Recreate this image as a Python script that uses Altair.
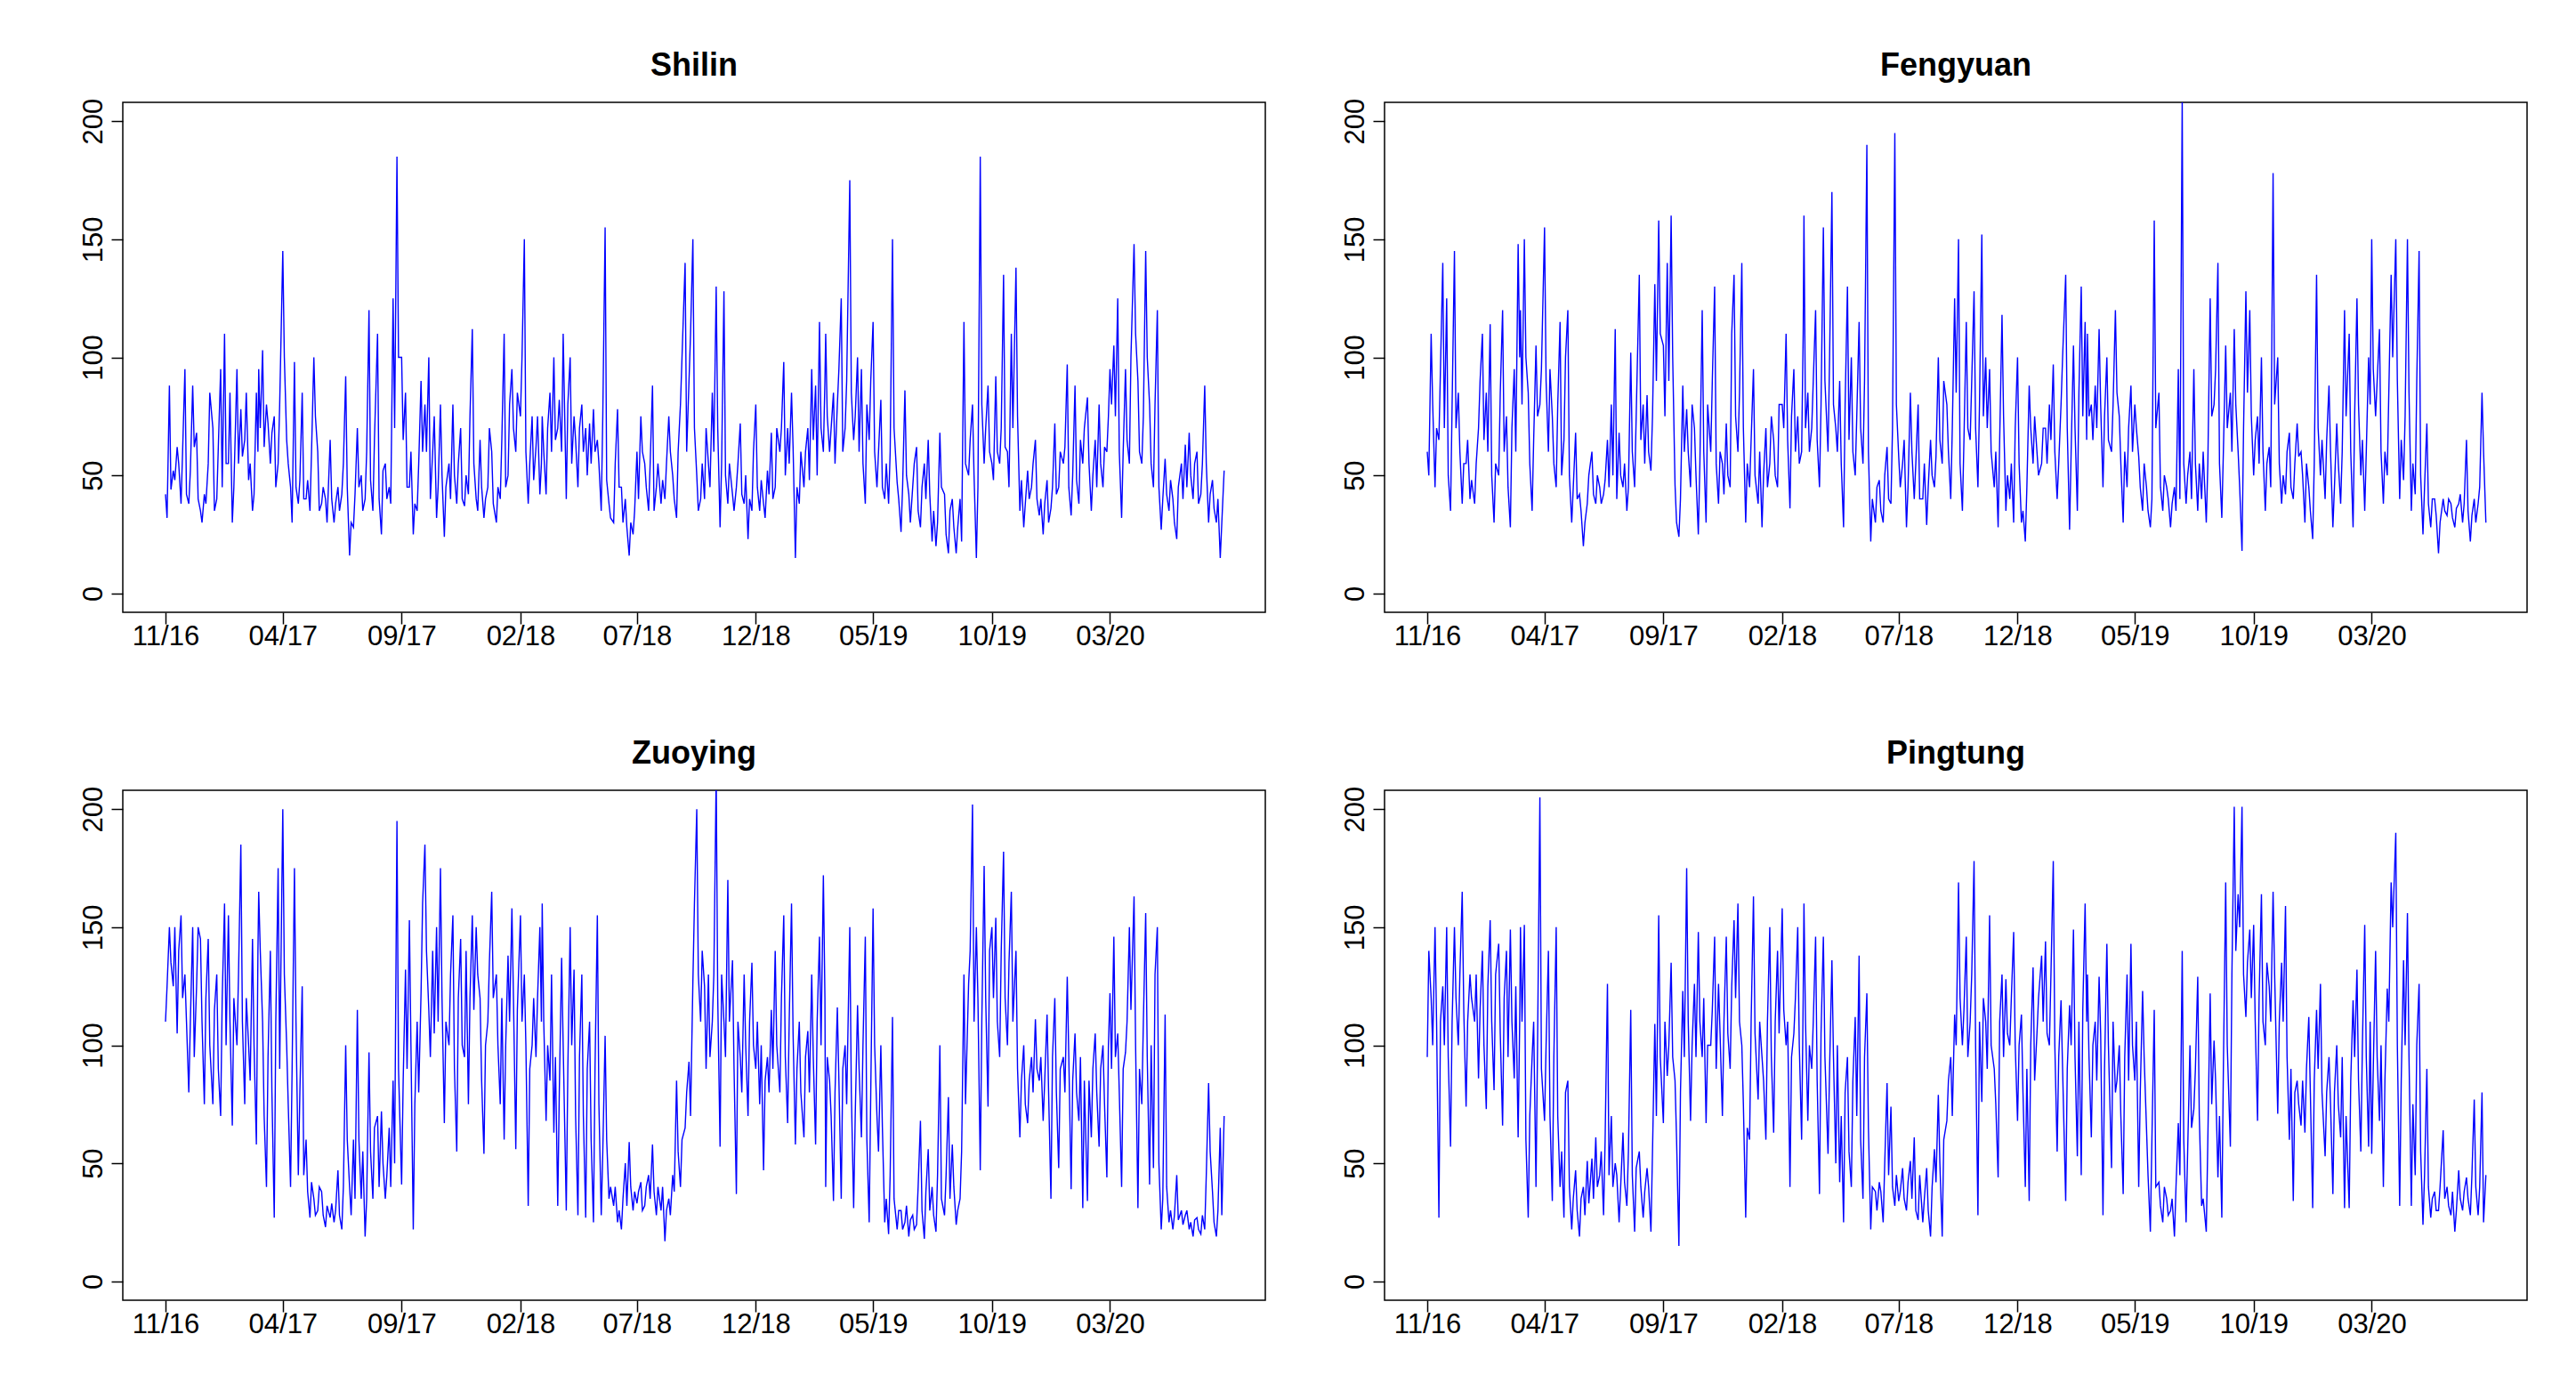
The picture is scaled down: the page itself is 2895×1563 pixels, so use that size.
import altair as alt
import pandas as pd

# ---- data: Nov 2016 - Jul 2020, readings on days 1,6,11,16,21,26 (A) and 3,8,13,18,23,28 (B) ----
STATIONS = ["Shilin", "Fengyuan", "Zuoying", "Pingtung"]

shilin_a = [
    42, 88, 52, 62, 38, 95,  38, 88, 68, 35, 42, 55,
    70, 40, 95, 110, 55, 30,  95, 78, 65, 48, 35, 85,  95, 103, 80, 55, 75, 55,
    145, 65, 45, 98, 38, 85,  40, 35, 100, 60, 38, 40,  65, 30, 45, 42, 92, 16,
    28, 70, 50, 40, 120, 35,  110, 25, 55, 45, 125, 185,  100, 85, 45, 25, 35, 90,
    80, 100, 60, 32, 80, 24,  55, 80, 38, 70, 37, 42,  112, 40, 65, 32, 45, 60,
    30, 40, 110, 50, 95, 60,  75, 150, 38, 75, 62, 42,  75, 42, 85, 100, 70, 60,
    40, 100, 75, 45, 80, 70,  72, 78, 65, 35, 155, 38,  30, 78, 45, 40, 16, 25,
    60, 75, 55, 35, 88, 45,  38, 40, 75, 50, 32, 80,  140, 90, 150, 50, 40, 40,
    55, 85, 130, 28, 128, 38,  42, 45, 72, 38, 23, 35,  80, 35, 38, 52, 68, 45,
    60, 98, 70, 85, 15, 38,  45, 70, 95, 88, 115, 60,  110, 60, 85, 80, 125, 70,
    175, 65, 100, 95, 38, 65,  115, 45, 82, 40, 38, 150,  47, 26, 86, 42, 45, 62,
    28, 55, 65, 22, 20, 68,  42, 17, 40, 17, 40, 115,  50, 80, 15, 185, 55, 88,
    55, 92, 55, 135, 60, 110,  138, 35, 28, 52, 45, 65,  33, 25, 48, 36, 72, 45,
    55, 97, 33, 88, 38, 55,  83, 35, 65, 80, 45, 60,  95, 105, 125, 32, 95, 55,
    148, 90, 55, 145, 80, 45,  120, 27, 57, 35, 40, 23,  55, 63, 68, 40, 60, 42,
    88, 30, 48, 30, 15, 52,
]
shilin_b = [
    32, 44, 48, 55, 60, 42,  52, 62, 40, 30, 38, 85,
    35, 62, 45, 55, 85, 45,  55, 58, 85, 55, 42, 60,  70, 62, 72, 68, 45, 80,
    100, 55, 30, 45, 48, 40,  48, 60, 75, 35, 45, 30,  40, 38, 35, 55, 45, 30,
    42, 45, 35, 60, 48, 65,  40, 52, 40, 38, 70, 100,  65, 45, 60, 38, 55, 60,
    60, 40, 75, 45, 50, 45,  40, 50, 55, 40, 50, 75,  55, 35, 45, 40, 70, 38,
    45, 65, 45, 80, 70, 85,  100, 60, 55, 48, 75, 55,  60, 70, 60, 65, 82, 110,
    80, 55, 65, 70, 60, 50,  55, 60, 55, 75, 48, 32,  55, 45, 30, 28, 30, 35,
    40, 60, 45, 55, 35, 55,  48, 55, 60, 40, 60, 100,  60, 110, 70, 35, 55, 70,
    45, 60, 70, 55, 50, 55,  35, 55, 42, 50, 40, 60,  45, 48, 32, 42, 40, 70,
    70, 50, 55, 62, 45, 60,  60, 48, 65, 50, 70, 90,  75, 70, 55, 95, 60, 90,
    85, 75, 60, 55, 80, 90,  60, 60, 45, 55, 60, 70,  40, 45, 50, 30, 55, 35,
    45, 40, 42, 35, 30, 45,  25, 35, 28, 28, 22, 55,  65, 50, 45, 80, 70, 60,
    48, 60, 70, 62, 45, 70,  75, 48, 38, 40, 55, 40,  40, 38, 30, 45, 42, 60,
    62, 45, 50, 48, 65, 70,  55, 50, 45, 55, 62, 75,  80, 75, 60, 60, 65, 100,
    110, 60, 75, 100, 55, 80,  45, 40, 42, 48, 30, 45,  40, 45, 50, 55, 38, 55,
    55, 42, 36, 40, 30,
]

fengyuan_a = [
    60, 110, 45, 65, 140, 125,  35, 145, 85, 38, 55, 40,
    38, 70, 110, 85, 114, 30,  50, 120, 75, 28, 95, 148,  120, 150, 85, 35, 105, 80,
    155, 60, 75, 45, 115, 65,  120, 30, 68, 42, 20, 38,  60, 38, 45, 42, 65, 80,
    112, 68, 45, 35, 102, 45,  135, 80, 84, 52, 131, 158,  105, 140, 160, 46, 24, 88,
    78, 45, 70, 25, 120, 30,  60, 130, 38, 55, 72, 45,  135, 60, 140, 30, 45, 95,
    38, 28, 70, 55, 65, 45,  80, 110, 36, 95, 75, 60,  160, 85, 70, 120, 45, 155,
    60, 170, 70, 90, 28, 130,  100, 50, 115, 55, 190, 22,  30, 48, 30, 62, 38, 195,
    58, 55, 28, 85, 40, 80,  40, 29, 65, 45, 100, 55,  80, 40, 125, 150, 35, 115,
    65, 128, 45, 152, 100, 95,  45, 28, 118, 35, 40, 30,  100, 30, 22, 88, 55, 60,
    55, 70, 80, 97, 40, 80,  135, 27, 105, 35, 130, 115,  110, 80, 88, 112, 45, 100,
    60, 120, 75, 30, 45, 88,  80, 58, 35, 45, 28, 158,  85, 35, 45, 28, 45, 95,
    210, 38, 60, 95, 35, 40,  30, 125, 80, 140, 32, 105,  85, 112, 60, 18, 128, 120,
    50, 75, 100, 35, 62, 178,  100, 38, 42, 68, 40, 72,  60, 30, 45, 23, 135, 50,
    40, 88, 28, 72, 38, 120,  110, 28, 125, 50, 35, 100,  150, 75, 112, 38, 50, 135,
    150, 40, 48, 150, 35, 42,  145, 25, 72, 28, 40, 17,  40, 33, 38, 28, 38, 30,
    65, 22, 40, 38, 85, 30,
]
fengyuan_b = [
    50, 80, 70, 95, 70, 50,  80, 70, 60, 55, 65, 48,
    55, 90, 65, 60, 50, 55,  85, 60, 45, 70, 60, 100,  80, 100, 55, 65, 75, 95,
    90, 95, 55, 80, 50, 100,  50, 45, 40, 35, 30, 50,  42, 50, 38, 48, 45, 50,
    40, 50, 55, 45, 60, 75,  65, 55, 60, 75, 90, 110,  75, 90, 100, 30, 40, 60,
    60, 80, 50, 55, 60, 80,  90, 55, 60, 42, 50, 110,  75, 85, 70, 55, 65, 50,
    60, 50, 45, 75, 50, 80,  70, 65, 75, 60, 55, 110,  70, 60, 90, 65, 80, 90,
    100, 80, 60, 55, 80, 65,  60, 75, 70, 90, 60, 40,  45, 35, 50, 40, 70, 80,
    45, 65, 45, 60, 55, 40,  55, 45, 50, 58, 65, 90,  60, 70, 85, 55, 65, 70,
    90, 70, 80, 75, 70, 60,  60, 65, 75, 50, 55, 70,  55, 35, 45, 70, 75, 50,
    70, 55, 65, 60, 55, 100,  70, 60, 70, 85, 75, 65,  75, 65, 70, 80, 75, 65,
    80, 85, 55, 60, 70, 60,  70, 45, 55, 35, 40, 70,  45, 50, 40, 38, 35, 40,
    55, 50, 40, 55, 55, 60,  55, 75, 95, 55, 60, 70,  60, 80, 45, 70, 85, 75,
    65, 55, 60, 55, 45, 80,  55, 50, 60, 45, 55, 58,  50, 55, 35, 55, 70, 65,
    65, 60, 45, 55, 60, 75,  60, 75, 80, 65, 60, 80,  95, 90, 60, 60, 85, 100,
    90, 65, 75, 85, 55, 90,  50, 45, 38, 40, 33, 30,  35, 40, 32, 36, 42, 38,
    35, 33, 30, 45, 60,
]

zuoying_a = [
    110, 150, 125, 105, 155, 130,  80, 150, 125, 145, 75, 145,
    75, 130, 70, 160, 155, 66,  100, 185, 75, 100, 145, 58,  165, 110, 40, 140, 27, 175,
    200, 100, 40, 175, 45, 125,  60, 27, 35, 30, 38, 23,  27, 25, 47, 22, 100, 40,
    60, 115, 35, 19, 97, 35,  70, 72, 35, 65, 85, 195,  41, 132, 153, 22, 110, 122,
    185, 115, 140, 150, 175, 67,  100, 155, 55, 145, 95, 75,  155, 150, 120, 54, 110, 165,
    130, 75, 60, 138, 158, 56,  155, 130, 32, 100, 95, 150,  160, 68, 85, 63, 32, 137,
    30, 150, 132, 28, 130, 27,  110, 25, 155, 28, 104, 35,  32, 25, 22, 50, 59, 30,
    33, 42, 32, 45, 58, 28,  30, 17, 35, 45, 85, 40,  65, 93, 127, 200, 110, 125,
    130, 110, 215, 57, 110, 170,  136, 37, 95, 130, 70, 135,  90, 75, 47, 95, 115, 140,
    80, 155, 67, 160, 58, 110,  61, 106, 130, 58, 146, 172,  40, 85, 34, 116, 35, 100,
    150, 31, 117, 61, 146, 25,  158, 70, 100, 25, 20, 112,  22, 30, 25, 19, 28, 24,
    68, 18, 56, 40, 21, 100,  28, 78, 58, 24, 35, 130,  126, 202, 150, 47, 176, 74,
    150, 154, 95, 182, 100, 165,  140, 61, 100, 67, 95, 111,  85, 68, 113, 35, 120, 48,
    95, 129, 39, 105, 68, 31,  34, 61, 105, 57, 100, 44,  122, 146, 105, 40, 97, 150,
    163, 31, 75, 156, 41, 48,  150, 22, 113, 25, 22, 45,  30, 28, 22, 19, 27, 20,
    22, 84, 38, 19, 65, 70,
]
zuoying_b = [
    125, 135, 150, 140, 120, 110,  110, 95, 150, 110, 120, 100,
    115, 90, 120, 100, 110, 120,  130, 110, 120, 85, 100, 140,  140, 70, 95, 80, 110, 90,
    130, 75, 90, 110, 80, 45,  38, 42, 28, 40, 28, 32,  33, 30, 28, 40, 60, 28,
    35, 60, 55, 35, 55, 65,  40, 50, 45, 40, 50, 90,  85, 90, 100, 75, 80, 160,
    140, 95, 105, 110, 120, 110,  130, 90, 120, 100, 140, 120,  115, 130, 85, 100, 135, 120,
    100, 120, 100, 110, 120, 115,  110, 100, 90, 120, 120, 110,  110, 100, 130, 95, 80, 100,
    90, 100, 70, 95, 70, 90,  60, 90, 75, 55, 60, 40,  40, 30, 35, 32, 40, 38,
    38, 30, 40, 35, 38, 40,  40, 30, 28, 38, 55, 60,  80, 70, 160, 130, 140, 90,
    95, 130, 120, 130, 95, 110,  90, 110, 80, 100, 110, 100,  110, 100, 85, 80, 90, 100,
    120, 95, 110, 105, 90, 80,  95, 80, 95, 110, 100, 120,  95, 70, 80, 85, 90, 75,
    80, 70, 90, 100, 60, 80,  100, 55, 65, 35, 45, 35,  30, 22, 32, 26, 22, 40,
    30, 38, 30, 28, 45, 35,  45, 35, 40, 30, 55, 75,  140, 110, 120, 110, 120, 140,
    120, 110, 140, 120, 135, 110,  90, 85, 75, 85, 80, 90,  95, 85, 80, 95, 80, 90,
    80, 95, 85, 80, 95, 85,  85, 90, 80, 90, 75, 100,  90, 95, 80, 90, 110, 115,
    100, 90, 110, 95, 100, 130,  50, 35, 40, 30, 28, 26,  24, 30, 25, 26, 22, 28,
    45, 55, 25, 30, 28,
]

pingtung_a = [
    95, 120, 150, 27, 125, 150,  57, 150, 100, 165, 74, 130,
    110, 86, 140, 73, 153, 81,  143, 66, 140, 149, 86, 61,  150, 151, 27, 95, 40, 205,
    68, 140, 34, 150, 40, 27,  85, 22, 47, 19, 40, 51,  52, 61, 45, 28, 126, 70,
    50, 25, 63, 32, 115, 21,  55, 27, 48, 21, 109, 155,  67, 87, 135, 85, 15, 123,
    175, 68, 126, 148, 95, 67,  100, 146, 126, 70, 146, 90,  153, 160, 100, 27, 60, 163,
    77, 95, 60, 150, 63, 140,  158, 100, 40, 105, 150, 60,  160, 68, 90, 146, 37, 146,
    54, 136, 50, 42, 25, 95,  40, 112, 138, 35, 122, 22,  38, 42, 25, 84, 74, 32,
    34, 48, 30, 51, 61, 26,  25, 48, 19, 56, 79, 19,  68, 95, 113, 169, 100, 146,
    110, 178, 28, 76, 110, 155,  90, 44, 130, 128, 100, 148,  68, 113, 40, 34, 133, 105,
    138, 144, 100, 178, 55, 119,  34, 117, 149, 53, 45, 160,  130, 61, 110, 129, 28, 143,
    48, 80, 100, 37, 130, 143,  85, 40, 123, 65, 21, 115,  42, 25, 35, 30, 19, 67,
    140, 25, 100, 73, 129, 32,  21, 122, 102, 44, 27, 169,  57, 201, 164, 201, 112, 149,
    151, 68, 164, 100, 125, 165,  71, 135, 159, 60, 34, 85,  66, 63, 112, 31, 115, 126,
    53, 95, 37, 100, 61, 31,  31, 119, 132, 55, 151, 57,  54, 140, 68, 40, 124, 169,
    190, 32, 136, 156, 32, 45,  126, 24, 90, 27, 38, 30,  64, 40, 28, 21, 47, 30,
    44, 28, 77, 28, 80, 45,
]
pingtung_b = [
    140, 100, 110, 110, 100, 95,  110, 120, 130, 115, 110, 120,
    130, 115, 100, 125, 110, 130,  105, 120, 95, 110, 125, 110,  110, 60, 70, 110, 100, 90,
    100, 70, 95, 70, 55, 80,  40, 35, 30, 35, 28, 33,  35, 40, 55, 60, 45, 40,
    45, 40, 42, 55, 45, 48,  40, 38, 40, 55, 70, 95,  110, 100, 95, 60, 80, 95,
    110, 100, 95, 110, 120, 100,  115, 90, 105, 110, 105, 125,  120, 110, 75, 65, 110, 105,
    110, 85, 110, 95, 110, 105,  115, 110, 95, 120, 100, 120,  110, 100, 110, 85, 105, 95,
    90, 95, 100, 70, 80, 55,  85, 70, 60, 95, 65, 40,  30, 38, 50, 45, 40, 45,
    38, 35, 42, 35, 30, 45,  35, 30, 40, 42, 50, 60,  85, 70, 100, 120, 115, 95,
    130, 100, 110, 120, 90, 100,  75, 110, 95, 105, 120, 100,  100, 80, 90, 100, 85, 120,
    110, 105, 130, 100, 95, 90,  90, 100, 95, 110, 115, 110,  95, 100, 85, 105, 90, 100,
    110, 85, 70, 95, 85, 100,  110, 80, 95, 45, 60, 40,  32, 40, 28, 35, 40, 45,
    60, 55, 65, 90, 70, 35,  60, 75, 85, 70, 90, 100,  130, 140, 150, 130, 135, 120,
    110, 120, 110, 135, 110, 130,  110, 110, 95, 90, 80, 75,  85, 90, 80, 85, 90, 80,
    80, 75, 80, 75, 95, 70,  85, 95, 85, 100, 95, 110,  90, 95, 100, 85, 110, 150,
    100, 85, 100, 95, 75, 100,  55, 45, 40, 35, 30, 40,  35, 32, 38, 30, 35, 38,
    35, 45, 40, 40, 25,
]

SLOT_DAYS_A = [1, 6, 11, 16, 21, 26]
SLOT_DAYS_B = [3, 8, 13, 18, 23, 28]
N_MONTHS = 45  # Nov 2016 .. Jul 2020
TICK_MONTHS = [(2016, 11), (2017, 4), (2017, 9), (2018, 2), (2018, 7),
               (2018, 12), (2019, 5), (2019, 10), (2020, 3)]
Y_TICKS = [0, 50, 100, 150, 200]

dates_a, dates_b = [], []
for m in range(N_MONTHS):
    yr = 2016 + (10 + m) // 12
    mo = (10 + m) % 12 + 1
    for da, db in zip(SLOT_DAYS_A, SLOT_DAYS_B):
        dates_a.append(f"{yr}-{mo:02d}-{da:02d}T00:00:00")
        dates_b.append(f"{yr}-{mo:02d}-{db:02d}T00:00:00")

FONT = "Liberation Sans"
PW, PH = 1284, 573


def build_frame(a_vals, b_vals):
    rows = []
    for i, (d, v) in enumerate(zip(dates_a, a_vals)):
        rows.append((d, v))
        if i < len(b_vals):
            rows.append((dates_b[i], b_vals[i]))
    return pd.DataFrame(rows, columns=["date", "value"])


def panel(name, a_vals, b_vals):
    df = build_frame(a_vals, b_vals)
    line = (
        alt.Chart(df)
        .mark_line(color="#0000FF", strokeWidth=1.4, clip=True)
        .encode(
            x=alt.X(
                "date:T",
                scale=alt.Scale(
                    domain=[alt.DateTime(year=2016, month=9, date=7),
                            alt.DateTime(year=2020, month=9, date=17)],
                    nice=False,
                ),
                axis=alt.Axis(
                    values=[alt.DateTime(year=y, month=mo, date=1) for y, mo in TICK_MONTHS],
                    format="%m/%y", title=None, grid=False, domain=False,
                    tickSize=13, tickWidth=1.5, tickColor="black",
                    labelFont=FONT, labelFontSize=31, labelColor="black",
                    labelPadding=-1, labelFlush=False, labelOverlap=False,
                ),
            ),
            y=alt.Y(
                "value:Q",
                scale=alt.Scale(domain=[-8, 208], nice=False, zero=False),
                axis=alt.Axis(
                    values=Y_TICKS, title=None, grid=False, domain=False,
                    tickSize=13, tickWidth=1.5, tickColor="black",
                    labelFont=FONT, labelFontSize=31, labelColor="black",
                    labelAngle=270, labelAlign="center", labelBaseline="alphabetic",
                    labelPadding=11, labelFlush=False, labelOverlap=False,
                ),
            ),
        )
    )
    title = (
        alt.Chart(pd.DataFrame({"t": [name]}))
        .mark_text(font=FONT, fontSize=36, fontWeight="bold", color="black",
                   align="center", baseline="alphabetic")
        .encode(text="t:N", x=alt.value(PW / 2), y=alt.value(-30))
    )
    return alt.layer(line, title).properties(width=PW, height=PH)


series = [(shilin_a, shilin_b), (fengyuan_a, fengyuan_b),
          (zuoying_a, zuoying_b), (pingtung_a, pingtung_b)]
charts = [panel(n, a, b) for n, (a, b) in zip(STATIONS, series)]
chart = (
    alt.concat(*charts, columns=2, spacing={"row": 200, "column": 134}, bounds="flush")
    .properties(padding={"left": 80, "top": 47, "right": 10, "bottom": 10},
                background="white")
    .configure_view(stroke="black", strokeWidth=1.5)
)

chart.save("out.html", embed_options={"renderer": "svg", "actions": False})
